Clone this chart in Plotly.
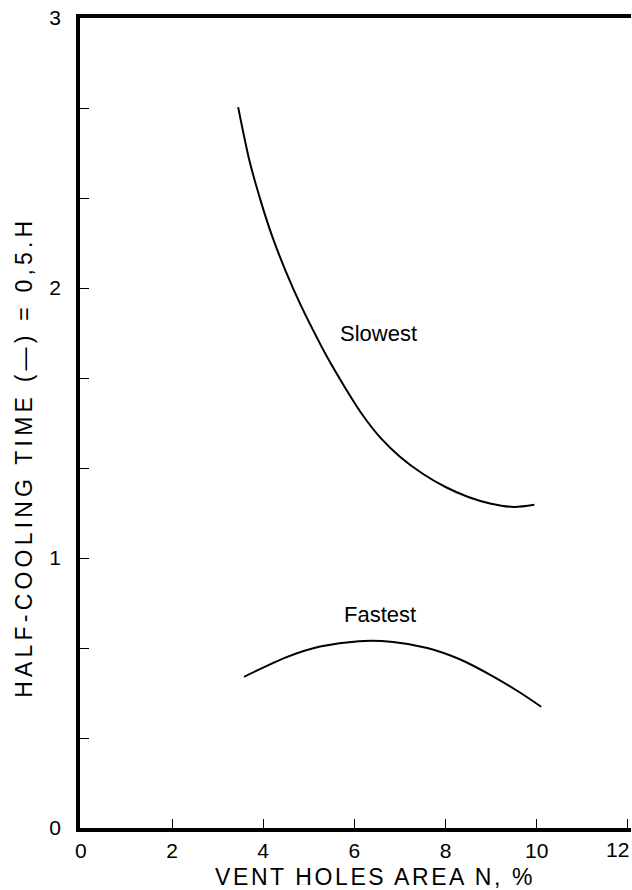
import plotly.graph_objects as go

# ---- data ----
slowest_x = [3.45, 3.7, 3.95, 4.2, 4.5, 4.8, 5.1, 5.4, 5.8, 6.2, 6.6, 7.0, 7.5, 8.0, 8.5, 9.0, 9.5, 9.95]
slowest_y = [2.67, 2.47, 2.32, 2.19, 2.06, 1.945, 1.842, 1.745, 1.63, 1.525, 1.44, 1.375, 1.312, 1.263, 1.226, 1.201, 1.189, 1.197]

fastest_x = [3.58, 4.5, 5.25, 6.1, 6.85, 7.6, 8.3, 9.05, 9.65, 10.1]
fastest_y = [0.56, 0.632, 0.672, 0.692, 0.689, 0.667, 0.626, 0.561, 0.5, 0.449]

x_tick_vals = [0, 2, 4, 6, 8, 10, 12]
x_tick_text = ["0", "2", "4", "6", "8", "10", "12"]
y_tick_vals = [0, 1/3, 2/3, 1, 4/3, 5/3, 2, 7/3, 8/3, 3]
y_tick_text = ["0", "", "", "1", "", "", "2", "", "", "3"]

curve_labels = ["Slowest", "Fastest"]
label_x = [6.53, 6.57]
label_y = [1.83, 0.79]

x_title = "VENT HOLES AREA N, %"
y_title = "HALF-COOLING TIME (\u2014) = 0,5.H"

FONT = "Liberation Sans, Arial, Helvetica, sans-serif"

fig = go.Figure()
fig.add_trace(go.Scatter(x=slowest_x, y=slowest_y, mode="lines",
                         line=dict(color="black", width=2, shape="spline", smoothing=0.8),
                         showlegend=False, hoverinfo="skip"))
fig.add_trace(go.Scatter(x=fastest_x, y=fastest_y, mode="lines",
                         line=dict(color="black", width=2, shape="spline", smoothing=0.8),
                         showlegend=False, hoverinfo="skip"))

for t, lx, ly in zip(curve_labels, label_x, label_y):
    fig.add_annotation(x=lx, y=ly, text=t, showarrow=False,
                       font=dict(family=FONT, size=22, color="black"))

# last x tick label sits at the right edge of the figure (partly clipped in the
# reference); draw it as an annotation so plotly does not drop it
shown_x_text = x_tick_text[:-1] + [""]
fig.add_annotation(xref="paper", yref="paper", x=1.0, y=-0.027, text=x_tick_text[-1],
                   showarrow=False, xanchor="right", yanchor="middle",
                   font=dict(family=FONT, size=21, color="black"))

fig.add_annotation(xref="paper", yref="paper", x=0.535, y=-0.0605, text=x_title,
                   showarrow=False, xanchor="center", yanchor="middle",
                   font=dict(family=FONT, size=23, color="black"))
fig.add_annotation(xref="paper", yref="paper", x=-0.1016, y=0.457, text=y_title,
                   showarrow=False, xanchor="center", yanchor="middle", textangle=-90,
                   font=dict(family=FONT, size=23, color="black"))

fig.update_layout(
    width=632, height=890,
    margin=dict(l=80, r=1, t=18, b=62, autoexpand=False),
    paper_bgcolor="white", plot_bgcolor="white",
    font=dict(family=FONT, size=21, color="black"),
    xaxis=dict(range=[-0.02, 12.07], tickvals=x_tick_vals, ticktext=shown_x_text,
               ticks="inside", ticklen=9, tickwidth=1, tickcolor="black",
               showline=True, linewidth=3.5, linecolor="black", mirror=True,
               showgrid=False, zeroline=False, ticklabelstandoff=1,
               automargin=False,
               tickfont=dict(family=FONT, size=21, color="black")),
    yaxis=dict(range=[0, 3], tickvals=y_tick_vals, ticktext=y_tick_text,
               ticks="inside", ticklen=9, tickwidth=1, tickcolor="black",
               showline=True, linewidth=3.5, linecolor="black",
               showgrid=False, zeroline=False, ticklabelstandoff=11,
               automargin=False,
               tickfont=dict(family=FONT, size=21, color="black")),
)

post = """
document.body.style.margin = '0';
document.body.style.overflow = 'hidden';
var gd = document.getElementById('{plot_id}');
gd.querySelectorAll('text.annotation-text').forEach(function(t){
  var s = t.textContent;
  if (s.indexOf('HALF') === 0) { t.style.letterSpacing = '4.2px'; }
  else if (s.indexOf('VENT') === 0) { t.style.letterSpacing = '2.6px'; }
});
"""

fig.write_html("out.html", post_script=post, config={"displayModeBar": False})
